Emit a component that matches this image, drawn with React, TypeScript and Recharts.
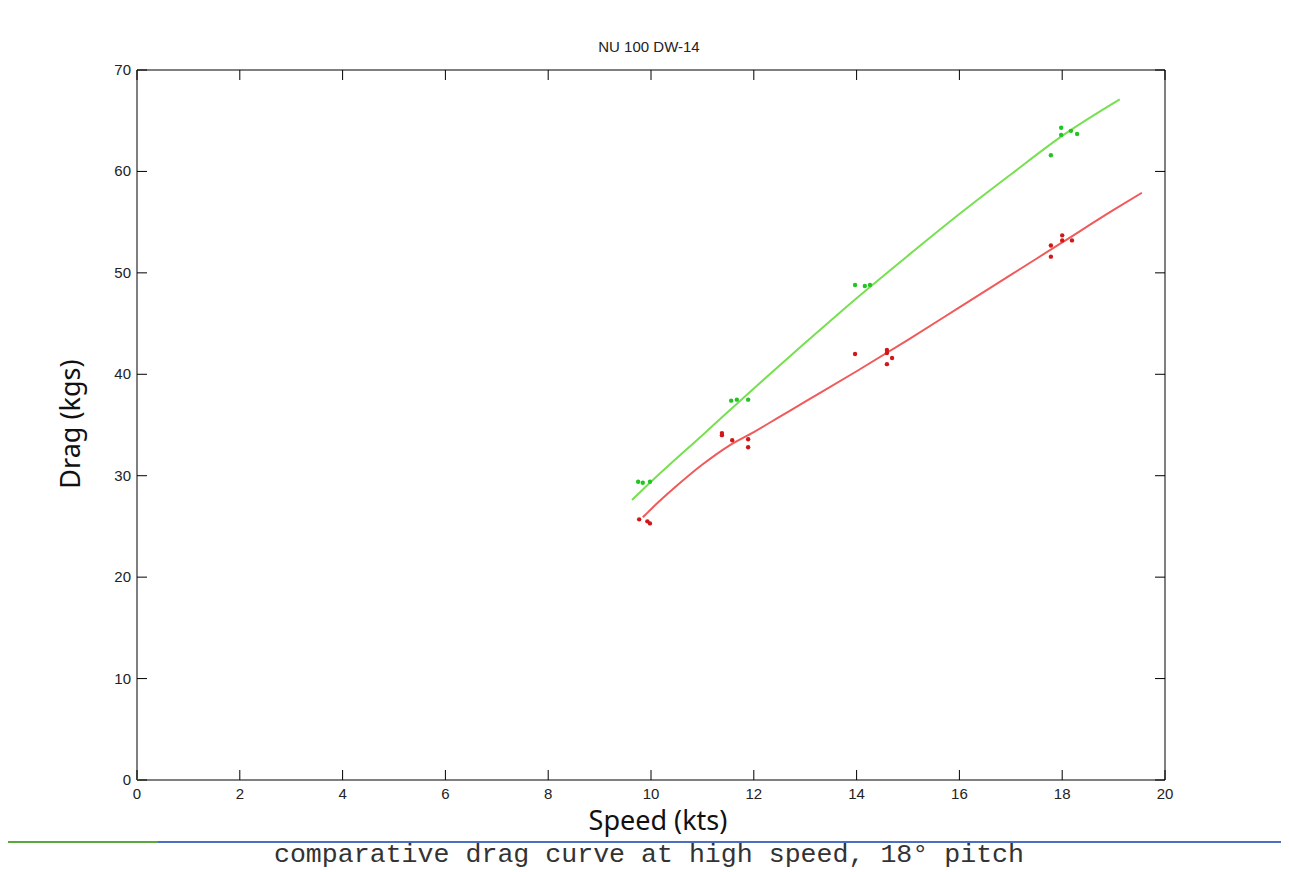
import React from 'react';
import { ComposedChart, Line, Scatter, XAxis, YAxis } from 'recharts';

const xTicks = [0, 2, 4, 6, 8, 10, 12, 14, 16, 18, 20];
const yTicks = [0, 10, 20, 30, 40, 50, 60, 70];

const greenFitX = [9.63, 10, 11, 12, 13, 14, 15, 16, 17, 18, 19.12];
const greenFitY = [27.6, 29.4, 34.0, 38.6, 43.1, 47.5, 51.7, 55.8, 59.7, 63.5, 67.1];

const redFitX = [9.84, 10, 10.5, 11, 11.5, 12, 12.5, 13, 14, 15, 16, 17, 18, 19, 19.55];
const redFitY = [25.9, 26.7, 29.0, 31.1, 32.9, 34.3, 35.8, 37.3, 40.3, 43.4, 46.6, 49.8, 53.0, 56.2, 57.9];

const greenPtsX = [9.75, 9.84, 9.98, 11.56, 11.67, 11.89, 13.97, 14.16, 14.26, 17.78, 17.98, 17.98, 18.17, 18.29];
const greenPtsY = [29.4, 29.3, 29.4, 37.4, 37.5, 37.5, 48.8, 48.7, 48.8, 61.6, 64.3, 63.6, 64.0, 63.7];

const redPtsX = [9.77, 9.93, 9.98, 11.38, 11.38, 11.58, 11.89, 11.89, 13.97, 14.59, 14.59, 14.69, 14.59, 17.78, 17.78, 18.0, 18.0, 18.19];
const redPtsY = [25.7, 25.5, 25.3, 34.2, 34.0, 33.5, 33.6, 32.8, 42.0, 42.4, 42.1, 41.6, 41.0, 52.7, 51.6, 53.7, 53.2, 53.2];

const originX = [0];
const originY = [0];

const zip = (xs: number[], ys: number[]) => xs.map((x, i) => ({ x, y: ys[i] }));

const greenFit = zip(greenFitX, greenFitY);
const redFit = zip(redFitX, redFitY);
const greenPts = zip(greenPtsX, greenPtsY);
const redPts = zip(redPtsX, redPtsY);
const originPts = zip(originX, originY);

const TICK_LEN = 10;
const tickFont = { fontFamily: 'Liberation Sans, Arial, sans-serif', fontSize: 15, fill: '#222' };

const BottomTick = (p: any) => (
  <g>
    <line x1={p.x} y1={p.y} x2={p.x} y2={p.y - TICK_LEN} stroke="#000" strokeWidth={1} />
    <text x={p.x} y={p.y + 19} textAnchor="middle" {...tickFont}>{p.payload.value}</text>
  </g>
);
const TopTick = (p: any) => (
  <line x1={p.x} y1={p.y} x2={p.x} y2={p.y + TICK_LEN} stroke="#000" strokeWidth={1} />
);
const LeftTick = (p: any) => (
  <g>
    <line x1={p.x} y1={p.y} x2={p.x + TICK_LEN} y2={p.y} stroke="#000" strokeWidth={1} />
    <text x={p.x - 6} y={p.y + 5} textAnchor="end" {...tickFont}>{p.payload.value}</text>
  </g>
);
const RightTick = (p: any) => (
  <line x1={p.x} y1={p.y} x2={p.x - TICK_LEN} y2={p.y} stroke="#000" strokeWidth={1} />
);

const dot = (color: string, r: number) => (props: any) => (
  <circle cx={props.cx} cy={props.cy} r={r} fill={color} />
);

export default function App() {
  return (
    <div style={{ position: 'relative', width: 1273, height: 864, background: '#fff' }}>
      <ComposedChart
        width={1273}
        height={856}
        margin={{ top: 61, left: 128, right: 115, bottom: 83 }}
      >
        <XAxis
          xAxisId="b"
          dataKey="x"
          type="number"
          domain={[0, 20]}
          ticks={xTicks}
          interval={0}
          height={1}
          tickSize={0}
          tickMargin={0}
          tickLine={false}
          tick={<BottomTick />}
          axisLine={{ stroke: '#000', strokeWidth: 1 }}
          allowDataOverflow
        />
        <XAxis
          xAxisId="t"
          orientation="top"
          dataKey="x"
          type="number"
          domain={[0, 20]}
          ticks={xTicks}
          interval={0}
          height={1}
          tickSize={0}
          tickMargin={0}
          tickLine={false}
          tick={<TopTick />}
          axisLine={{ stroke: '#000', strokeWidth: 1 }}
          allowDataOverflow
        />
        <YAxis
          yAxisId="l"
          type="number"
          domain={[0, 70]}
          ticks={yTicks}
          interval={0}
          width={1}
          tickSize={0}
          tickMargin={0}
          tickLine={false}
          tick={<LeftTick />}
          axisLine={{ stroke: '#000', strokeWidth: 1 }}
          allowDataOverflow
        />
        <YAxis
          yAxisId="r"
          orientation="right"
          type="number"
          domain={[0, 70]}
          ticks={yTicks}
          interval={0}
          width={1}
          tickSize={0}
          tickMargin={0}
          tickLine={false}
          tick={<RightTick />}
          axisLine={{ stroke: '#000', strokeWidth: 1 }}
          allowDataOverflow
        />
        <Line
          xAxisId="b"
          yAxisId="l"
          data={greenFit}
          dataKey="y"
          type="monotone"
          stroke="#77e050"
          strokeWidth={2}
          dot={false}
          activeDot={false}
          isAnimationActive={false}
        />
        <Line
          xAxisId="b"
          yAxisId="l"
          data={redFit}
          dataKey="y"
          type="monotone"
          stroke="#f05a5a"
          strokeWidth={2}
          dot={false}
          activeDot={false}
          isAnimationActive={false}
        />
        <Scatter
          xAxisId="b"
          yAxisId="l"
          data={greenPts}
          dataKey="y"
          shape={dot('#22c422', 2.2)}
          isAnimationActive={false}
        />
        <Scatter
          xAxisId="b"
          yAxisId="l"
          data={redPts}
          dataKey="y"
          shape={dot('#d01818', 2.2)}
          isAnimationActive={false}
        />
        <Scatter
          xAxisId="b"
          yAxisId="l"
          data={originPts}
          dataKey="y"
          shape={dot('#a8e050', 2)}
          isAnimationActive={false}
        />
      </ComposedChart>

      <div
        style={{
          position: 'absolute', left: 541, top: 30, width: 200, textAlign: 'center',
          fontFamily: 'Liberation Sans, Arial, sans-serif', fontSize: 15, lineHeight: '18px', color: '#222',
        }}
      >
        NU 100 DW-14
      </div>
      <div
        style={{
          position: 'absolute', left: 500, top: 798, width: 300, textAlign: 'center',
          fontFamily: 'Noto Sans, DejaVu Sans, sans-serif', fontSize: 27, lineHeight: '28px', color: '#111',
        }}
      >
        Speed (kts)
      </div>
      <div
        style={{
          position: 'absolute', left: 62 - 150, top: 416 - 16, width: 300, textAlign: 'center',
          fontFamily: 'Noto Sans, DejaVu Sans, sans-serif', fontSize: 27, lineHeight: '32px', color: '#111',
          transform: 'rotate(-90deg)', transformOrigin: '150px 16px',
        }}
      >
        Drag (kgs)
      </div>
      <div style={{ position: 'absolute', left: -2, top: 833, width: 152, height: 2, background: '#5aa83c' }} />
      <div style={{ position: 'absolute', left: 150, top: 833, width: 1127, height: 2, background: '#4a70c4' }} />
      <div
        style={{
          position: 'absolute', left: 141, top: 838, width: 1000, textAlign: 'center',
          fontFamily: 'Liberation Mono, Courier New, monospace', fontSize: 26.6, lineHeight: '18px', color: '#333',
          whiteSpace: 'nowrap',
        }}
      >
        comparative drag curve at high speed, 18° pitch
      </div>
    </div>
  );
}
